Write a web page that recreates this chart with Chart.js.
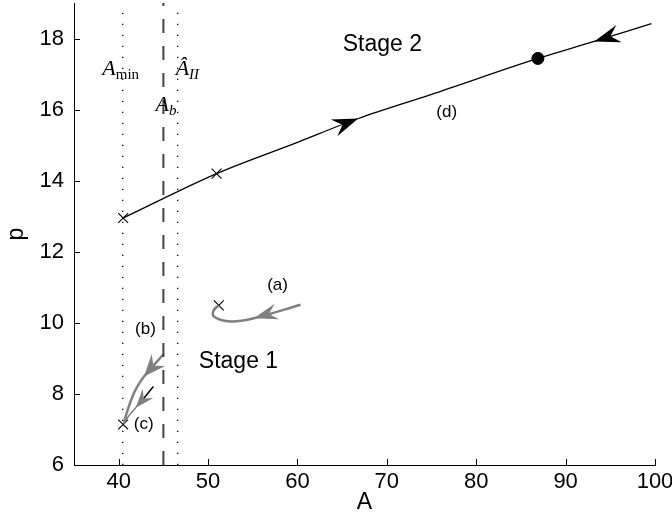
<!DOCTYPE html>
<html>
<head>
<meta charset="utf-8">
<script src="https://cdn.jsdelivr.net/npm/chart.js@4"></script>
<style>
  html, body { margin: 0; padding: 0; background: #fff; }
  #wrap { width: 672px; height: 523px; }
</style>
</head>
<body>
<div id="wrap"><canvas id="phase" width="672" height="523"></canvas></div>
<script>
// axis ticks
const xTicks = [40, 50, 60, 70, 80, 90, 100];
const yTicks = [6, 8, 10, 12, 14, 16, 18];

// trajectories (A, p)
const curveD = [[40.5, 12.95], [50.95, 14.2], [60, 15.08], [66.8, 15.75], [75, 16.43], [86.9, 17.44], [93.2, 17.92], [99.6, 18.42]];
const curveA = [[60.34, 10.51], [55.12, 10.13], [52.51, 10.04], [50.65, 10.18], [50.65, 10.37], [51.2, 10.49]];
const curveB = [[45.06, 9.13], [42.83, 8.49], [42.0, 8.17], [41.53, 7.92], [40.89, 7.46], [40.59, 7.17]];
const curveC = [[43.88, 8.21], [42.65, 7.83], [41.9, 7.61], [41.12, 7.38], [40.59, 7.17]];

// markers
const crosses = [[40.5, 12.95], [50.95, 14.2], [51.2, 10.49], [40.5, 7.14]];
const steadyState = [[86.9, 17.44]];

// vertical reference lines
const aMin = 40.45;
const aB = 45.0;
const aII = 46.6;

// arrow heads: tip and a point behind it on the curve
const arrowTips = [[66.8, 15.75], [93.2, 17.92], [55.12, 10.13], [42.83, 8.49], [41.9, 7.61]];
const arrowFrom = [[60, 15.08], [99.6, 18.42], [60.34, 10.51], [45.06, 9.13], [42.65, 7.83]];

// text labels
const labelText = ['Stage 2', 'Stage 1', '(a)', '(b)', '(c)', '(d)'];
const labelAt = [[69.5, 17.83], [53.4, 8.9], [57.77, 11.07], [43.0, 9.83], [42.8, 7.14], [76.7, 15.93]];

const GRAY = '#808080';
const toXY = arr => arr.map(d => ({ x: d[0], y: d[1] }));
const vline = a => [{ x: a, y: 6 }, { x: a, y: 19 }];

const arrowStyle = [
  { len: 26, half: 9, color: '#000' },
  { len: 26, half: 9, color: '#000' },
  { len: 24, half: 8, color: GRAY },
  { len: 22, half: 9, color: GRAY },
  { len: 19, half: 7, color: GRAY }
];
const labelFont = ['23px', '23px', '17px', '17px', '17px', '17px'];

const extras = {
  id: 'extras',
  afterDatasetsDraw(chart) {
    const ctx = chart.ctx;
    const xs = chart.scales.x, ys = chart.scales.y;
    const area = chart.chartArea;
    ctx.save();

    // arrow heads
    arrowTips.forEach((t, i) => {
      const st = arrowStyle[i];
      const tx = xs.getPixelForValue(t[0]), ty = ys.getPixelForValue(t[1]);
      const fx = xs.getPixelForValue(arrowFrom[i][0]), fy = ys.getPixelForValue(arrowFrom[i][1]);
      const ang = Math.atan2(ty - fy, tx - fx);
      ctx.save();
      ctx.translate(tx, ty);
      ctx.rotate(ang);
      ctx.beginPath();
      ctx.moveTo(0, 0);
      ctx.lineTo(-st.len, st.half);
      ctx.lineTo(-st.len * 0.65, 0);
      ctx.lineTo(-st.len, -st.half);
      ctx.closePath();
      ctx.fillStyle = st.color;
      ctx.fill();
      ctx.restore();
    });

    // inward ticks
    ctx.strokeStyle = '#000';
    ctx.lineWidth = 1;
    ctx.beginPath();
    xTicks.forEach(v => {
      const px = Math.round(xs.getPixelForValue(v)) + 0.5;
      ctx.moveTo(px, area.bottom);
      ctx.lineTo(px, area.bottom - 6);
    });
    yTicks.forEach(v => {
      const py = Math.round(ys.getPixelForValue(v)) + 0.5;
      ctx.moveTo(area.left, py);
      ctx.lineTo(area.left + 6, py);
    });
    ctx.stroke();

    // plain labels
    ctx.fillStyle = '#000';
    ctx.textAlign = 'center';
    ctx.textBaseline = 'middle';
    labelText.forEach((txt, i) => {
      ctx.font = labelFont[i] + ' "Liberation Sans", Arial, sans-serif';
      ctx.fillText(txt, xs.getPixelForValue(labelAt[i][0]), ys.getPixelForValue(labelAt[i][1]));
    });

    // math labels
    const mathLabel = (main, sub, subItalic, a, p) => {
      const x = xs.getPixelForValue(a), y = ys.getPixelForValue(p);
      ctx.textAlign = 'left';
      ctx.textBaseline = 'alphabetic';
      ctx.font = 'italic 22px "Liberation Serif", "DejaVu Serif", serif';
      ctx.fillText(main, x, y);
      const w = ctx.measureText(main).width;
      ctx.font = (subItalic ? 'italic ' : '') + '15px "Liberation Serif", "DejaVu Serif", serif';
      ctx.fillText(sub, x + w, y + 4);
    };
    mathLabel('A', 'min', false, 38.17, 16.96);
    mathLabel('\u00C2', 'II', true, 46.37, 16.96);
    mathLabel('A', 'b', true, 44.13, 15.97);

    ctx.restore();
  }
};

Chart.defaults.font.family = '"Liberation Sans", Arial, sans-serif';
Chart.defaults.color = '#000';

new Chart(document.getElementById('phase'), {
  type: 'scatter',
  data: {
    datasets: [
      { data: vline(aMin), showLine: true, borderColor: '#000', borderWidth: 1.3, borderDash: [1.3, 9.7], pointRadius: 0 },
      { data: vline(aII), showLine: true, borderColor: '#000', borderWidth: 1.3, borderDash: [1.3, 9.7], pointRadius: 0 },
      { data: vline(aB), showLine: true, borderColor: '#444', borderWidth: 2, borderDash: [14, 13], pointRadius: 0 },
      { data: toXY(curveD), showLine: true, borderColor: '#000', borderWidth: 1.3, cubicInterpolationMode: 'monotone', pointRadius: 0 },
      { data: toXY(curveA), showLine: true, borderColor: GRAY, borderWidth: 2.5, tension: 0.4, pointRadius: 0 },
      { data: toXY(curveB), showLine: true, borderColor: GRAY, borderWidth: 2.5, tension: 0.4, pointRadius: 0 },
      {
        data: toXY(curveC), showLine: true, borderColor: GRAY, borderWidth: 1.5, tension: 0.3, pointRadius: 0,
        segment: { borderColor: c => c.p0DataIndex === 0 ? '#000' : GRAY }
      },
      { data: toXY(crosses), pointStyle: 'crossRot', pointRadius: 7, borderColor: '#000', borderWidth: 1.1, backgroundColor: '#000' },
      { data: toXY(steadyState), pointStyle: 'circle', pointRadius: 6, borderColor: '#000', backgroundColor: '#000' }
    ]
  },
  options: {
    responsive: false,
    devicePixelRatio: 1,
    animation: false,
    events: [],
    layout: { autoPadding: false, padding: { top: 3, right: 17, left: 0, bottom: 0 } },
    plugins: { legend: { display: false }, tooltip: { enabled: false } },
    scales: {
      x: {
        type: 'linear',
        min: 35,
        max: 100,
        afterBuildTicks: s => { s.ticks = xTicks.map(v => ({ value: v })); },
        afterFit: s => { s.height = 58; s.paddingLeft = 0; s.paddingRight = 0; },
        grid: { display: true, drawOnChartArea: false, drawTicks: false, color: 'rgba(0,0,0,0)' },
        border: { display: true, color: '#000', width: 1 },
        ticks: { font: { size: 22 }, padding: 4, maxRotation: 0, autoSkip: false },
        title: { display: true, text: 'A', font: { size: 23 }, padding: { top: 0, bottom: 7 } }
      },
      y: {
        type: 'linear',
        min: 6,
        max: 19,
        afterBuildTicks: s => { s.ticks = yTicks.map(v => ({ value: v })); },
        afterFit: s => { s.width = 74; s.paddingTop = 0; s.paddingBottom = 0; },
        grid: { display: true, drawOnChartArea: false, drawTicks: false, color: 'rgba(0,0,0,0)' },
        border: { display: true, color: '#000', width: 1 },
        ticks: { font: { size: 22 }, padding: 10, autoSkip: false },
        title: { display: true, text: 'p', font: { size: 23 }, padding: { top: 3, bottom: 0 } }
      }
    }
  },
  plugins: [extras]
});
</script>
</body>
</html>
